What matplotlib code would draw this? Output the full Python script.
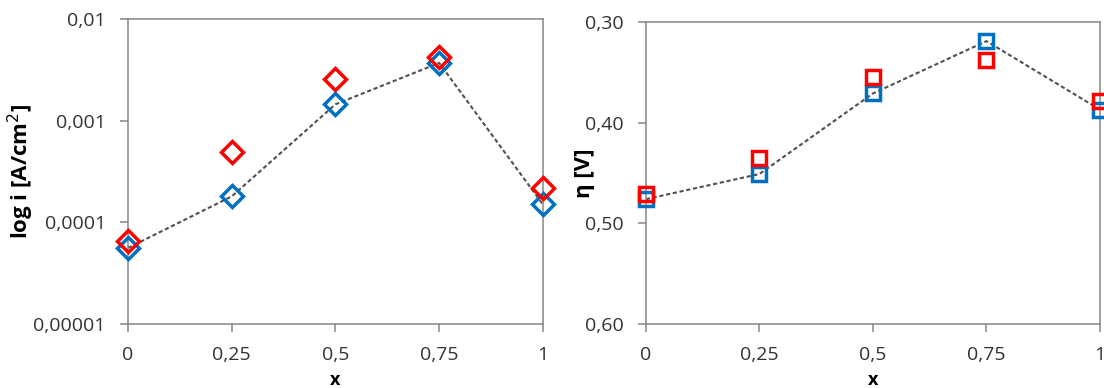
import matplotlib.pyplot as plt
from matplotlib.ticker import FixedLocator, FixedFormatter

plt.rcParams['font.family'] = ['Open Sans', 'DejaVu Sans']

x = [0, 0.25, 0.5, 0.75, 1]
x_labels = ['0', '0,25', '0,5', '0,75', '1']

# current density, two series
i_blue = [5.6e-5, 1.8e-4, 1.45e-3, 3.7e-3, 1.5e-4]
i_red = [6.5e-5, 4.9e-4, 2.55e-3, 4.2e-3, 2.2e-4]
i_ticks = [1e-5, 1e-4, 1e-3, 1e-2]
i_labels = ['0,00001', '0,0001', '0,001', '0,01']

# overpotential, two series
eta_blue = [0.476, 0.451, 0.371, 0.319, 0.387]
eta_red = [0.471, 0.435, 0.355, 0.338, 0.378]
eta_ticks = [0.30, 0.40, 0.50, 0.60]
eta_labels = ['0,30', '0,40', '0,50', '0,60']

BLUE = '#0070C0'
RED = '#FF0000'
GRID = '#868686'
TXT = '#333333'

fig = plt.figure(figsize=(11.04, 3.88), dpi=100)
ax1 = fig.add_axes([0.1159, 0.1649, 0.3759, 0.786])
ax2 = fig.add_axes([0.5851, 0.1649, 0.4112, 0.7784])


def style(ax):
    for s in ax.spines.values():
        s.set_color(GRID)
        s.set_linewidth(1.1)
    ax.tick_params(axis='both', which='major', direction='out', length=6,
                   width=1.1, color=GRID, labelsize=14, labelcolor=TXT, pad=10)
    ax.tick_params(axis='both', which='minor', length=0)
    ax.set_xlim(0, 1)
    ax.xaxis.set_major_locator(FixedLocator(x))
    ax.xaxis.set_major_formatter(FixedFormatter(x_labels))
    ax.set_xlabel('x', fontsize=13, fontweight='bold', color='black')
    ax.xaxis.set_label_coords(0.5, -0.155)


# left: log current density
ax1.plot(x, i_blue, ls=(0, (2, 1.3)), color='#505050', lw=1.5, zorder=2)
ax1.plot(x, i_blue, ls='none', marker='D', ms=11, mfc='none', mec=BLUE,
         mew=2.5, clip_on=False, zorder=3)
ax1.plot(x, i_red, ls='none', marker='D', ms=11, mfc='none', mec=RED,
         mew=2.5, clip_on=False, zorder=4)
ax1.set_yscale('log')
ax1.set_ylim(1e-5, 1e-2)
ax1.yaxis.set_major_locator(FixedLocator(i_ticks))
ax1.yaxis.set_major_formatter(FixedFormatter(i_labels))
style(ax1)
ax1.set_ylabel('log i [A/cm$^2$]', fontsize=16, fontweight='bold', color='black')
ax1.yaxis.set_label_coords(-0.222, 0.5)

# right: overpotential, inverted axis
ax2.plot(x, eta_blue, ls=(0, (2, 1.3)), color='#505050', lw=1.5, zorder=2)
ax2.plot(x, eta_blue, ls='none', marker='s', ms=10, mfc='none', mec=BLUE,
         mew=2.5, clip_on=False, zorder=3)
ax2.plot(x, eta_red, ls='none', marker='s', ms=10, mfc='none', mec=RED,
         mew=2.5, clip_on=False, zorder=4)
ax2.set_ylim(0.60, 0.30)
ax2.yaxis.set_major_locator(FixedLocator(eta_ticks))
ax2.yaxis.set_major_formatter(FixedFormatter(eta_labels))
style(ax2)
ax2.set_ylabel('η [V]', fontsize=16, fontweight='bold', color='black')
ax2.yaxis.set_label_coords(-0.112, 0.5)

fig.savefig('out.png', dpi=100)
